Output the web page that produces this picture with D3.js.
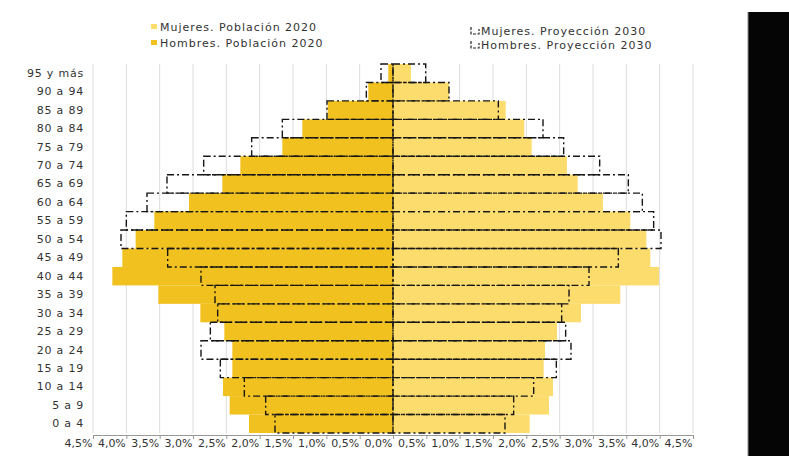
<!DOCTYPE html>
<html>
<head>
<meta charset="utf-8">
<script src="https://cdn.jsdelivr.net/npm/d3@7"></script>
<style>
  body { margin: 0; background: #fff; }
  text { font-family: "DejaVu Sans", Verdana, sans-serif; fill: #333; }
</style>
</head>
<body>
<svg id="chart" width="789" height="456"></svg>
<script>
var ages = ["0 a 4", "5 a 9", "10 a 14", "15 a 19", "20 a 24", "25 a 29", "30 a 34", "35 a 39",
  "40 a 44", "45 a 49", "50 a 54", "55 a 59", "60 a 64", "65 a 69", "70 a 74", "75 a 79",
  "80 a 84", "85 a 89", "90 a 94", "95 y más"];
var hombres2020 = [2.16, 2.45, 2.55, 2.41, 2.41, 2.53, 2.89, 3.52, 4.21, 4.06, 3.86, 3.58,
  3.06, 2.56, 2.29, 1.66, 1.36, 0.98, 0.37, 0.07];
var mujeres2020 = [2.05, 2.34, 2.40, 2.26, 2.28, 2.46, 2.82, 3.41, 3.99, 3.86, 3.80, 3.56,
  3.15, 2.77, 2.61, 2.08, 1.97, 1.69, 0.84, 0.27];
var hombres2030 = [1.77, 1.91, 2.23, 2.59, 2.88, 2.74, 2.63, 2.67, 2.88, 3.38, 4.08, 4.00,
  3.69, 3.39, 2.84, 2.12, 1.66, 0.99, 0.40, 0.18];
var mujeres2030 = [1.68, 1.81, 2.11, 2.45, 2.67, 2.59, 2.53, 2.64, 2.94, 3.38, 4.02, 3.91,
  3.74, 3.53, 3.10, 2.56, 2.25, 1.58, 0.84, 0.49];
var xTicks = [-4.5, -4, -3.5, -3, -2.5, -2, -1.5, -1, -0.5, 0, 0.5, 1, 1.5, 2, 2.5, 3, 3.5, 4, 4.5];

var colHombres = "#f1c11f";
var colMujeres = "#fddc6e";

var svg = d3.select("#chart");
var x = d3.scaleLinear().domain([-4.5, 4.5]).range([93, 693]);
var y = d3.scaleBand().domain(ages).range([433, 64]).padding(0);
var fmt = function (d) { return d3.format(".1f")(Math.abs(d)).replace(".", ",") + "%"; };

// grid
svg.append("g").selectAll("line").data(xTicks).join("line")
  .attr("x1", function (d) { return x(d); }).attr("x2", function (d) { return x(d); })
  .attr("y1", 64).attr("y2", 433)
  .attr("stroke", "#dcdcdc").attr("stroke-width", 1);

// 2020 bars
svg.append("g").selectAll("rect").data(ages).join("rect")
  .attr("x", function (d, i) { return x(-hombres2020[i]); })
  .attr("y", function (d) { return y(d); })
  .attr("width", function (d, i) { return x(0) - x(-hombres2020[i]); })
  .attr("height", y.bandwidth())
  .attr("fill", colHombres);
svg.append("g").selectAll("rect").data(ages).join("rect")
  .attr("x", x(0))
  .attr("y", function (d) { return y(d); })
  .attr("width", function (d, i) { return x(mujeres2020[i]) - x(0); })
  .attr("height", y.bandwidth())
  .attr("fill", colMujeres);

// 2030 outlines
var dash = "7,3,2,3";
svg.append("g").selectAll("rect").data(ages).join("rect")
  .attr("x", function (d, i) { return x(-hombres2030[i]); })
  .attr("y", function (d) { return y(d); })
  .attr("width", function (d, i) { return x(0) - x(-hombres2030[i]); })
  .attr("height", y.bandwidth())
  .attr("fill", "none").attr("stroke", "#161616").attr("stroke-width", 1.4)
  .attr("stroke-dasharray", dash);
svg.append("g").selectAll("rect").data(ages).join("rect")
  .attr("x", x(0))
  .attr("y", function (d) { return y(d); })
  .attr("width", function (d, i) { return x(mujeres2030[i]) - x(0); })
  .attr("height", y.bandwidth())
  .attr("fill", "none").attr("stroke", "#161616").attr("stroke-width", 1.4)
  .attr("stroke-dasharray", dash);

// x axis
var xAxis = svg.append("g").attr("transform", "translate(0,435)")
  .call(d3.axisBottom(x).tickValues(xTicks).tickFormat(fmt).tickSize(4).tickSizeOuter(0));
xAxis.select(".domain").attr("stroke", "#999");
xAxis.selectAll(".tick line").attr("stroke", "#999");
xAxis.selectAll("text").attr("text-anchor", "end").attr("dx", "-1").attr("dy", "0.45em")
  .style("font-size", "11px").style("font-family", "DejaVu Sans").attr("fill", "#333");

// y labels
var yAxis = svg.append("g").attr("transform", "translate(88,0)")
  .call(d3.axisLeft(y).tickSize(0).tickPadding(4));
yAxis.select(".domain").remove();
yAxis.selectAll("text").style("font-size", "11px").style("letter-spacing", "0.8px")
  .style("font-family", "DejaVu Sans").attr("fill", "#333");

// legend
var legL = [["Mujeres. Población 2020", colMujeres, 27], ["Hombres. Población 2020", colHombres, 43]];
legL.forEach(function (l) {
  svg.append("rect").attr("x", 151).attr("y", l[2] - 3).attr("width", 6).attr("height", 5).attr("fill", l[1]);
  svg.append("text").attr("x", 160).attr("y", l[2]).attr("dy", "0.35em")
    .style("font-size", "11px").style("letter-spacing", "1px").text(l[0]);
});
var legR = [["Mujeres. Proyección 2030", 31], ["Hombres. Proyección 2030", 45]];
legR.forEach(function (l) {
  svg.append("path").attr("d", "M" + 471 + "," + (l[1] - 4) + "v7h8v-5")
    .attr("fill", "none").attr("stroke", "#222").attr("stroke-width", 1.2).attr("stroke-dasharray", "3,1.5");
  svg.append("text").attr("x", 481).attr("y", l[1]).attr("dy", "0.35em")
    .style("font-size", "11px").style("letter-spacing", "1px").text(l[0]);
});

// black side panel
svg.append("rect").attr("x", 748).attr("y", 12).attr("width", 41).attr("height", 444).attr("fill", "#050505");
svg.append("line").attr("x1", 748).attr("x2", 748).attr("y1", 12).attr("y2", 456).attr("stroke", "#888");
</script>
</body>
</html>
